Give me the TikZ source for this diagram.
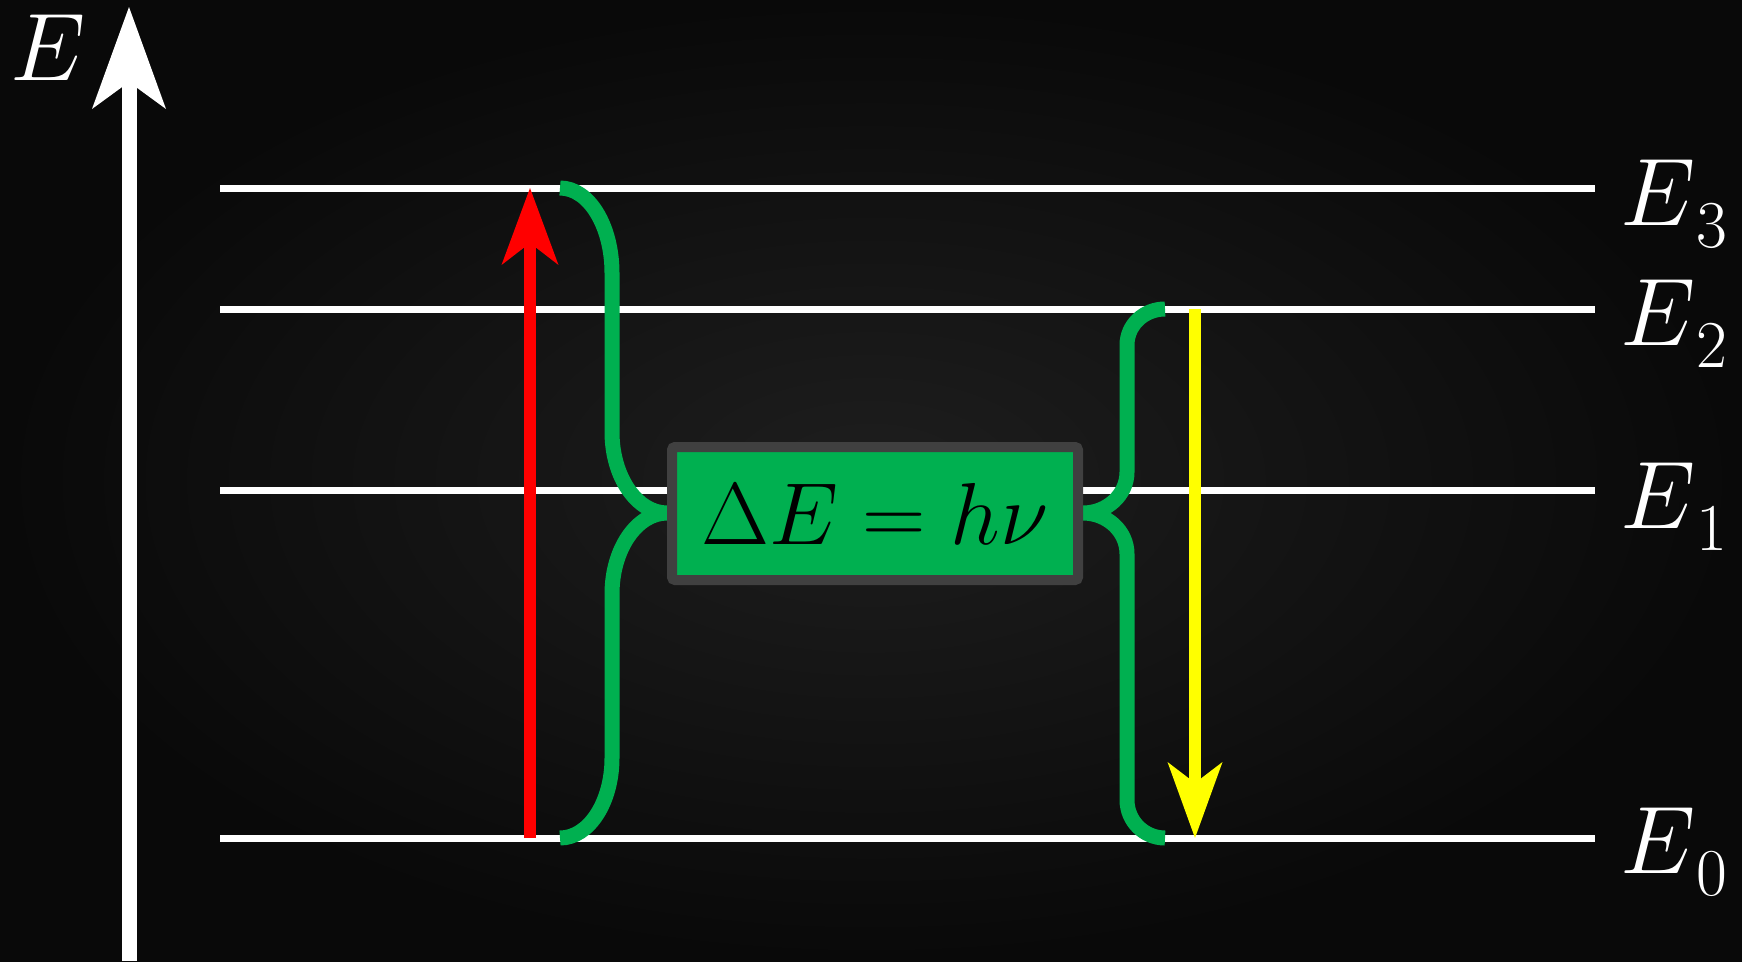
\RequirePackage{fix-cm}
\documentclass[tikz,border=0pt]{standalone}
\usetikzlibrary{arrows.meta}
\definecolor{bgin}{RGB}{30,30,30}
\definecolor{bgout}{RGB}{9,9,9}
\definecolor{brgreen}{RGB}{0,176,80}
\definecolor{boxgray}{RGB}{64,64,64}
\definecolor{yel}{RGB}{255,255,0}
\definecolor{redarrow}{RGB}{255,0,0}
\newcommand{\lvllabel}[1]{$E$\kern1pt\raisebox{-22pt}{\fontsize{67}{70}\selectfont #1}}
\begin{document}
\begin{tikzpicture}[x=1pt,y=-1pt,
  level/.style={draw=white,line width=7pt},
  brace/.style={draw=brgreen,line width=15pt,line cap=butt},
  lab/.style={text=white,inner sep=0pt,anchor=base west,font=\fontsize{96}{110}\selectfont},
  axisarrow/.style={draw=white,line width=15pt,-{Stealth[length=102pt,width=74pt,inset=27pt,line width=0pt]}},
  uparrow/.style={draw=redarrow,line width=12pt,-{Stealth[length=77pt,width=57pt,inset=22pt,line width=0pt]}},
  downarrow/.style={draw=yel,line width=12pt,-{Stealth[length=76pt,width=55pt,inset=21pt,line width=0pt]}},
  eqbox/.style={rectangle,fill=brgreen,draw=boxgray,line width=10pt,rounded corners=3pt,
    minimum width=406pt,minimum height=133pt,inner sep=0pt,font=\fontsize{88}{100}\selectfont}
]
\useasboundingbox (0,0) rectangle (1742,961);
\shade[inner color=bgin,outer color=bgout] (0,0) rectangle (1742,961);

% energy levels
\coordinate (L3w) at (220,188); \coordinate (L3e) at (1595,188);
\coordinate (L2w) at (220,309); \coordinate (L2e) at (1595,309);
\coordinate (L1w) at (220,490); \coordinate (L1e) at (1595,490);
\coordinate (L0w) at (220,838); \coordinate (L0e) at (1595,838);
\draw[level] (L3w) -- (L3e);
\draw[level] (L2w) -- (L2e);
\draw[level] (L1w) -- (L1e);
\draw[level] (L0w) -- (L0e);

% labels
\node[lab] (e3) at (1620,225) {\lvllabel{3}};
\node[lab] (e2) at (1620,345) {\lvllabel{2}};
\node[lab] (e1) at (1620,528) {\lvllabel{1}};
\node[lab] (e0) at (1620,873) {\lvllabel{0}};
\node[lab] (eax) at (10,80) {$E$};

% energy axis
\coordinate (axb) at (129,961);
\coordinate (axt) at (129,7);
\draw[axisarrow] (axb) -- (axt);

% braces
\draw[brace] (560,188) .. controls (589,188) and (612,226) .. (612,273)
  -- (612,432) .. controls (612,477) and (637,513) .. (667,513)
  .. controls (637,513) and (612,549) .. (612,594)
  -- (612,758) .. controls (612,802) and (589,838) .. (560,838);
\draw[brace] (1165,309) .. controls (1144,309) and (1127,325) .. (1127,345)
  -- (1127,472) .. controls (1127,495) and (1107,513) .. (1083,513)
  .. controls (1107,513) and (1127,531) .. (1127,554)
  -- (1127,800) .. controls (1127,821) and (1144,838) .. (1165,838);

% transitions
\coordinate (r0) at (530,838);
\coordinate (r3) at (530,188);
\draw[uparrow] (r0) -- (r3);
\coordinate (y2) at (1195,309);
\coordinate (y0) at (1195,838);
\draw[downarrow] (y2) -- (y0);

% equation box
\node[eqbox] (box) at (875,513.5) {$\Delta E = h\nu$};
\end{tikzpicture}
\end{document}
